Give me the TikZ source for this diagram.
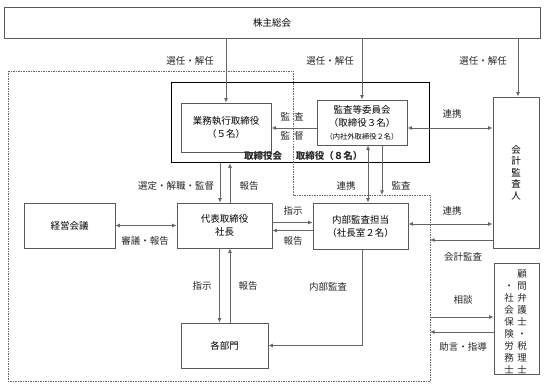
\documentclass[tikz,border=0pt]{standalone}
\usepackage{fontspec}
\newfontfamily\jpfont{Noto Sans CJK JP}
\usetikzlibrary{arrows.meta, calc, positioning}

\begin{document}
\begin{tikzpicture}[
    x=1pt, y=-1pt,
    font=\jpfont\fontsize{9.5pt}{13pt}\selectfont,
    box/.style={rectangle, draw=black!65, line width=0.8pt, align=center, inner sep=0pt},
    arrow/.style={-{Latex[length=4.5pt, width=4pt]}, draw=black!60, line width=0.9pt},
    twoway/.style={{Latex[length=4.5pt, width=4pt]}-{Latex[length=4.5pt, width=4pt]}, draw=black!60, line width=0.9pt},
    lbl/.style={inner sep=0pt, text=black!85},
    area/.style={draw=black!60, line width=0.7pt, dash pattern=on 1.5pt off 1pt},
]

\useasboundingbox (0,0) rectangle (546,390);

% boxes
\node[box, minimum width=536pt, minimum height=31pt] (soukai) at (272,22.5) {株主総会};
\node[draw=black, line width=1.6pt, minimum width=258pt, minimum height=80pt] (board) at (300.5,122.5) {};
\node[box, minimum width=90pt, minimum height=49pt] (gyomu) at (226,127.5) {業務執行取締役\\（５名）};
\node[box, minimum width=90pt, minimum height=45pt] (kansa) at (362,122.5) {監査等委員会\\（取締役３名）\\{\fontsize{7.3pt}{10pt}\selectfont（内社外取締役２名）}};
\node[box, minimum width=46pt, minimum height=151pt, font=\jpfont\fontsize{9.5pt}{11.5pt}\selectfont] (kaikei) at (516,172.5) {会\\計\\監\\査\\人};
\node[box, minimum width=91pt, minimum height=45pt] (keiei) at (69.5,225.5) {経営会議};
\node[box, minimum width=95pt, minimum height=45pt] (shacho) at (224.5,225.5) {代表取締役\\社長};
\node[box, minimum width=95pt, minimum height=46pt] (naibu) at (360.5,226) {内部監査担当\\（社長室２名）};
\node[box, minimum width=87pt, minimum height=45pt] (bumon) at (224.5,345.5) {各部門};
\node[box, minimum width=45pt, minimum height=111pt] (komon) at (516.5,318.5) {};
\node[lbl, align=center, font=\jpfont\fontsize{9.5pt}{12pt}\selectfont] (komon right) at (522,321.5) {顧\\問\\弁\\護\\士\\・\\税\\理\\士};
\node[lbl, align=center, font=\jpfont\fontsize{9.5pt}{12pt}\selectfont] (komon left) at (509,329) {・\\社\\会\\保\\険\\労\\務\\士};

% area inside the company
\draw[area] (8,71) -- (293,71) -- (293,195) -- (430,195) -- (430,381) -- (8,381) -- cycle;
\coordinate (kansa end) at (382,195);
\coordinate (audit end) at (430,240);
\coordinate (soudan start) at (430,317);
\coordinate (jogen end) at (430,332);

% labels
\node[lbl] (senin1) at (190,61) {選任・解任};
\node[lbl] (senin2) at (330,61) {選任・解任};
\node[lbl] (senin3) at (483,61) {選任・解任};
\node[lbl] (kansa1) at (292,117) {監\hspace{4pt}査};
\node[lbl] (kantoku1) at (292,136) {監\hspace{4pt}督};
\node[lbl] (renkei1) at (452,114) {連携};
\node[lbl, font=\jpfont\bfseries\fontsize{9.5pt}{13pt}\selectfont] (board lbl) at (263,156) {取締役会};
\node[lbl, font=\jpfont\bfseries\fontsize{9.5pt}{13pt}\selectfont] (board num) at (329,156) {取締役（８名）};
\node[lbl] (sentei) at (176,186) {選定・解職・監督};
\node[lbl] (houkoku1) at (249,186) {報告};
\node[lbl] (renkei2) at (346,186) {連携};
\node[lbl] (kansa2) at (401,186) {監査};
\node[lbl] (shingi) at (145,241) {審議・報告};
\node[lbl] (shiji1) at (293,211) {指示};
\node[lbl] (houkoku2) at (293,241) {報告};
\node[lbl] (renkei3) at (452,211) {連携};
\node[lbl] (kaikei lbl) at (463,257) {会計監査};
\node[lbl] (shiji2) at (202,286) {指示};
\node[lbl] (houkoku3) at (248,286) {報告};
\node[lbl] (naibu lbl) at (328,287) {内部監査};
\node[lbl] (soudan) at (463,300) {相談};
\node[lbl] (jogen) at (463,347) {助言・指導};

% connectors
\draw[arrow] (soukai.south -| gyomu.north) -- (gyomu.north);
\draw[arrow] (soukai.south -| kansa.north) -- (kansa.north);
\draw[arrow] ([xshift=2pt]soukai.south -| kaikei.north) -- ([xshift=2pt]kaikei.north);
\draw[arrow] ([yshift=-5.5pt]kansa.west) -- ([yshift=-5.5pt]kansa.west -| gyomu.east);
\draw[twoway] ([yshift=-5.5pt]kansa.east) -- ([yshift=-5.5pt]kansa.east -| kaikei.west);

\draw[arrow] ([xshift=-4.5pt]shacho.north |- board.south) -- ([xshift=-4.5pt]shacho.north);
\draw[arrow] ([xshift=5.5pt]shacho.north) -- ([xshift=5.5pt]shacho.north |- board.south);
\draw[twoway] ([xshift=6pt]kansa.south) -- ([xshift=6pt]kansa.south |- naibu.north);
\draw[arrow] ([xshift=20pt]kansa.south) -- (kansa end);

\draw[twoway] (keiei.east) -- (shacho.west);
\draw[arrow] ([yshift=3pt]shacho.east) -- ([yshift=3pt]shacho.east -| naibu.west);
\draw[arrow] ([yshift=-4.5pt]naibu.west) -- ([yshift=-4.5pt]naibu.west -| shacho.east);
\draw[twoway] ([yshift=2pt]naibu.east) -- ([yshift=2pt]naibu.east -| kaikei.west);
\draw[arrow] (kaikei.west |- audit end) -- (audit end);

\draw[arrow] ([xshift=-5pt]shacho.south) -- ([xshift=-5pt]shacho.south |- bumon.north);
\draw[arrow] ([xshift=5.5pt]shacho.south |- bumon.north) -- ([xshift=5.5pt]shacho.south);
\draw[arrow] ([xshift=1.5pt]naibu.south) |- (bumon.east);

\draw[arrow] (soudan start) -- (soudan start -| komon.west);
\draw[arrow] (komon.west |- jogen end) -- (jogen end);

\end{tikzpicture}
\end{document}
